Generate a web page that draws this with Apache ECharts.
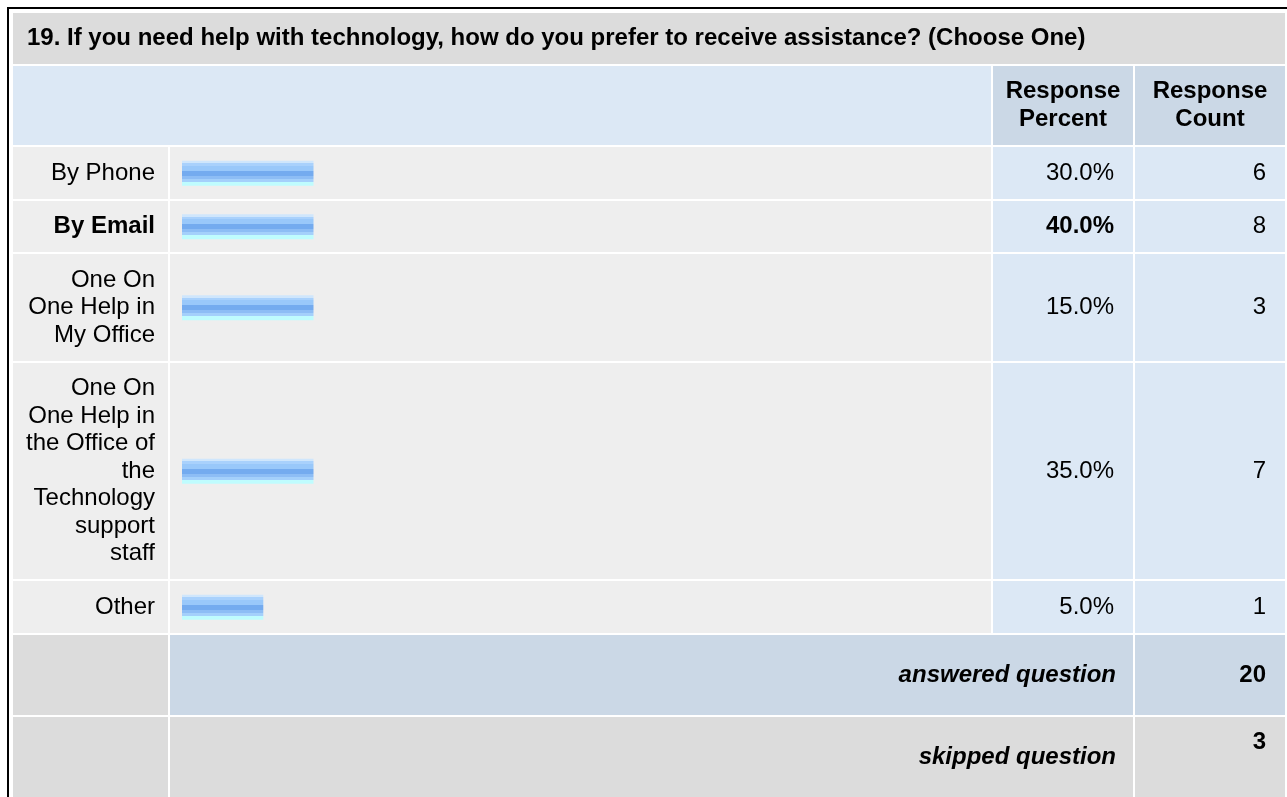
<!DOCTYPE html>
<html>
<head>
<meta charset="utf-8">
<title>19. Technology assistance</title>
<script src="https://cdn.jsdelivr.net/npm/echarts@6/dist/echarts.min.js"></script>
<style>
html, body { margin: 0; padding: 0; background: #fff; }
#chart { width: 1287px; height: 797px; }
</style>
</head>
<body>
<div id="chart"></div>
<script>
const question = '19. If you need help with technology, how do you prefer to receive assistance? (Choose One)';
const headers = ['Response\nPercent', 'Response\nCount'];
const answers = ['By Phone', 'By Email', 'One On One Help in My Office', 'One On One Help in the Office of the Technology support staff', 'Other'];
const percents = [30.0, 40.0, 15.0, 35.0, 5.0];
const counts = [6, 8, 3, 7, 1];
// bar lengths as they are drawn in the source (% of the bar column), they don't follow the percents
const barLengths = [16.5, 16.5, 16.5, 16.5, 10.2];
const answered = 20;
const skipped = 3;

const FONT = '"Liberation Sans", Arial, sans-serif';
const LH = 27.5;
const maxPercent = Math.max.apply(null, percents);

// word wrap for the answer column, same as the browser table would do
const ctx = document.createElement('canvas').getContext('2d');
function wrap(str, width, bold) {
  ctx.font = (bold ? 'bold ' : '') + '24px ' + FONT;
  const words = str.split(' ');
  const lines = [];
  let line = '';
  words.forEach(function (w) {
    const test = line ? line + ' ' + w : w;
    if (line && ctx.measureText(test).width > width) {
      lines.push(line);
      line = w;
    } else {
      line = test;
    }
  });
  lines.push(line);
  return lines;
}

const g = [];
function rect(x1, y1, x2, y2, fill) {
  g.push({ type: 'rect', silent: true, shape: { x: x1, y: y1, width: x2 - x1, height: y2 - y1 }, style: { fill: fill } });
}
function text(str, x, y, opts) {
  g.push({
    type: 'text', silent: true, z: 10,
    style: Object.assign({ text: str, x: x, y: y, fill: '#000', fontSize: 24, fontFamily: FONT, lineHeight: LH, verticalAlign: 'middle' }, opts)
  });
}

// outer border
rect(7, 7, 1287, 9, '#000');
rect(7, 7, 9, 797, '#000');

// title
rect(13, 13, 1285, 64, '#dcdcdc');
text(question, 27, 38.5, { fontWeight: 'bold', align: 'left' });

// header
rect(13, 66, 991, 145, '#dce8f5');
rect(993, 66, 1133, 145, '#cbd8e6');
rect(1135, 66, 1285, 145, '#cbd8e6');
text(headers[0], 1063, 105.5, { fontWeight: 'bold', align: 'center' });
text(headers[1], 1210, 105.5, { fontWeight: 'bold', align: 'center' });

const barColor = {
  type: 'linear', x: 0, y: 0, x2: 0, y2: 1,
  colorStops: [
    { offset: 0, color: '#cfe6fc' }, { offset: 0.095, color: '#cfe6fc' },
    { offset: 0.095, color: '#a9d1fc' }, { offset: 0.2, color: '#a9d1fc' },
    { offset: 0.2, color: '#99c8fa' }, { offset: 0.4, color: '#99c8fa' },
    { offset: 0.4, color: '#74abef' }, { offset: 0.6, color: '#74abef' },
    { offset: 0.6, color: '#8dbdf5' }, { offset: 0.73, color: '#8dbdf5' },
    { offset: 0.73, color: '#a4d0fb' }, { offset: 0.84, color: '#a4d0fb' },
    { offset: 0.84, color: '#bffcfe' }, { offset: 1, color: '#bffcfe' }
  ]
};

const grids = [], xAxes = [], yAxes = [], series = [];
let y = 147.4;
answers.forEach(function (name, i) {
  const bold = percents[i] === maxPercent;
  const lines = wrap(name, 131, bold);
  const h = lines.length * LH + 24;
  const y1 = Math.round(y), y2 = Math.round(y + h), mid = y + h / 2;
  rect(13, y1, 168, y2, '#eeeeee');
  rect(170, y1, 991, y2, '#eeeeee');
  rect(993, y1, 1133, y2, '#dce8f5');
  rect(1135, y1, 1285, y2, '#dce8f5');
  text(lines.join('\n'), 155, mid, { align: 'right', fontWeight: bold ? 'bold' : 'normal' });
  text(percents[i].toFixed(1) + '%', 1114, mid, { align: 'right', fontWeight: bold ? 'bold' : 'normal' });
  text(String(counts[i]), 1266, mid, { align: 'right' });

  grids.push({ left: 182, width: 797, top: y, height: h });
  xAxes.push({ type: 'value', gridIndex: i, min: 0, max: 100, show: false });
  yAxes.push({ type: 'category', gridIndex: i, data: [name], show: false });
  series.push({
    type: 'bar', xAxisIndex: i, yAxisIndex: i, data: [barLengths[i]],
    barWidth: 25, silent: true, itemStyle: { color: barColor }
  });
  y += h + 2;
});

// answered / skipped
const ya = Math.round(y);
rect(13, ya, 168, ya + 80, '#dcdcdc');
rect(170, ya, 1133, ya + 80, '#cbd8e6');
rect(1135, ya, 1285, ya + 80, '#cbd8e6');
text('answered question', 1116, ya + 40, { align: 'right', fontWeight: 'bold', fontStyle: 'italic' });
text(String(answered), 1266, ya + 40, { align: 'right', fontWeight: 'bold' });

const ys = ya + 82;
rect(13, ys, 168, ys + 100, '#dcdcdc');
rect(170, ys, 1133, ys + 100, '#dcdcdc');
rect(1135, ys, 1285, ys + 100, '#dcdcdc');
text('skipped question', 1116, ys + 40, { align: 'right', fontWeight: 'bold', fontStyle: 'italic' });
text(String(skipped), 1266, ys + 12 + LH / 2, { align: 'right', fontWeight: 'bold' });

const chart = echarts.init(document.getElementById('chart'));
chart.setOption({
  animation: false,
  backgroundColor: '#fff',
  graphic: { elements: g },
  grid: grids,
  xAxis: xAxes,
  yAxis: yAxes,
  series: series
});
window.onresize = function () {
  chart.resize();
};
</script>
</body>
</html>
